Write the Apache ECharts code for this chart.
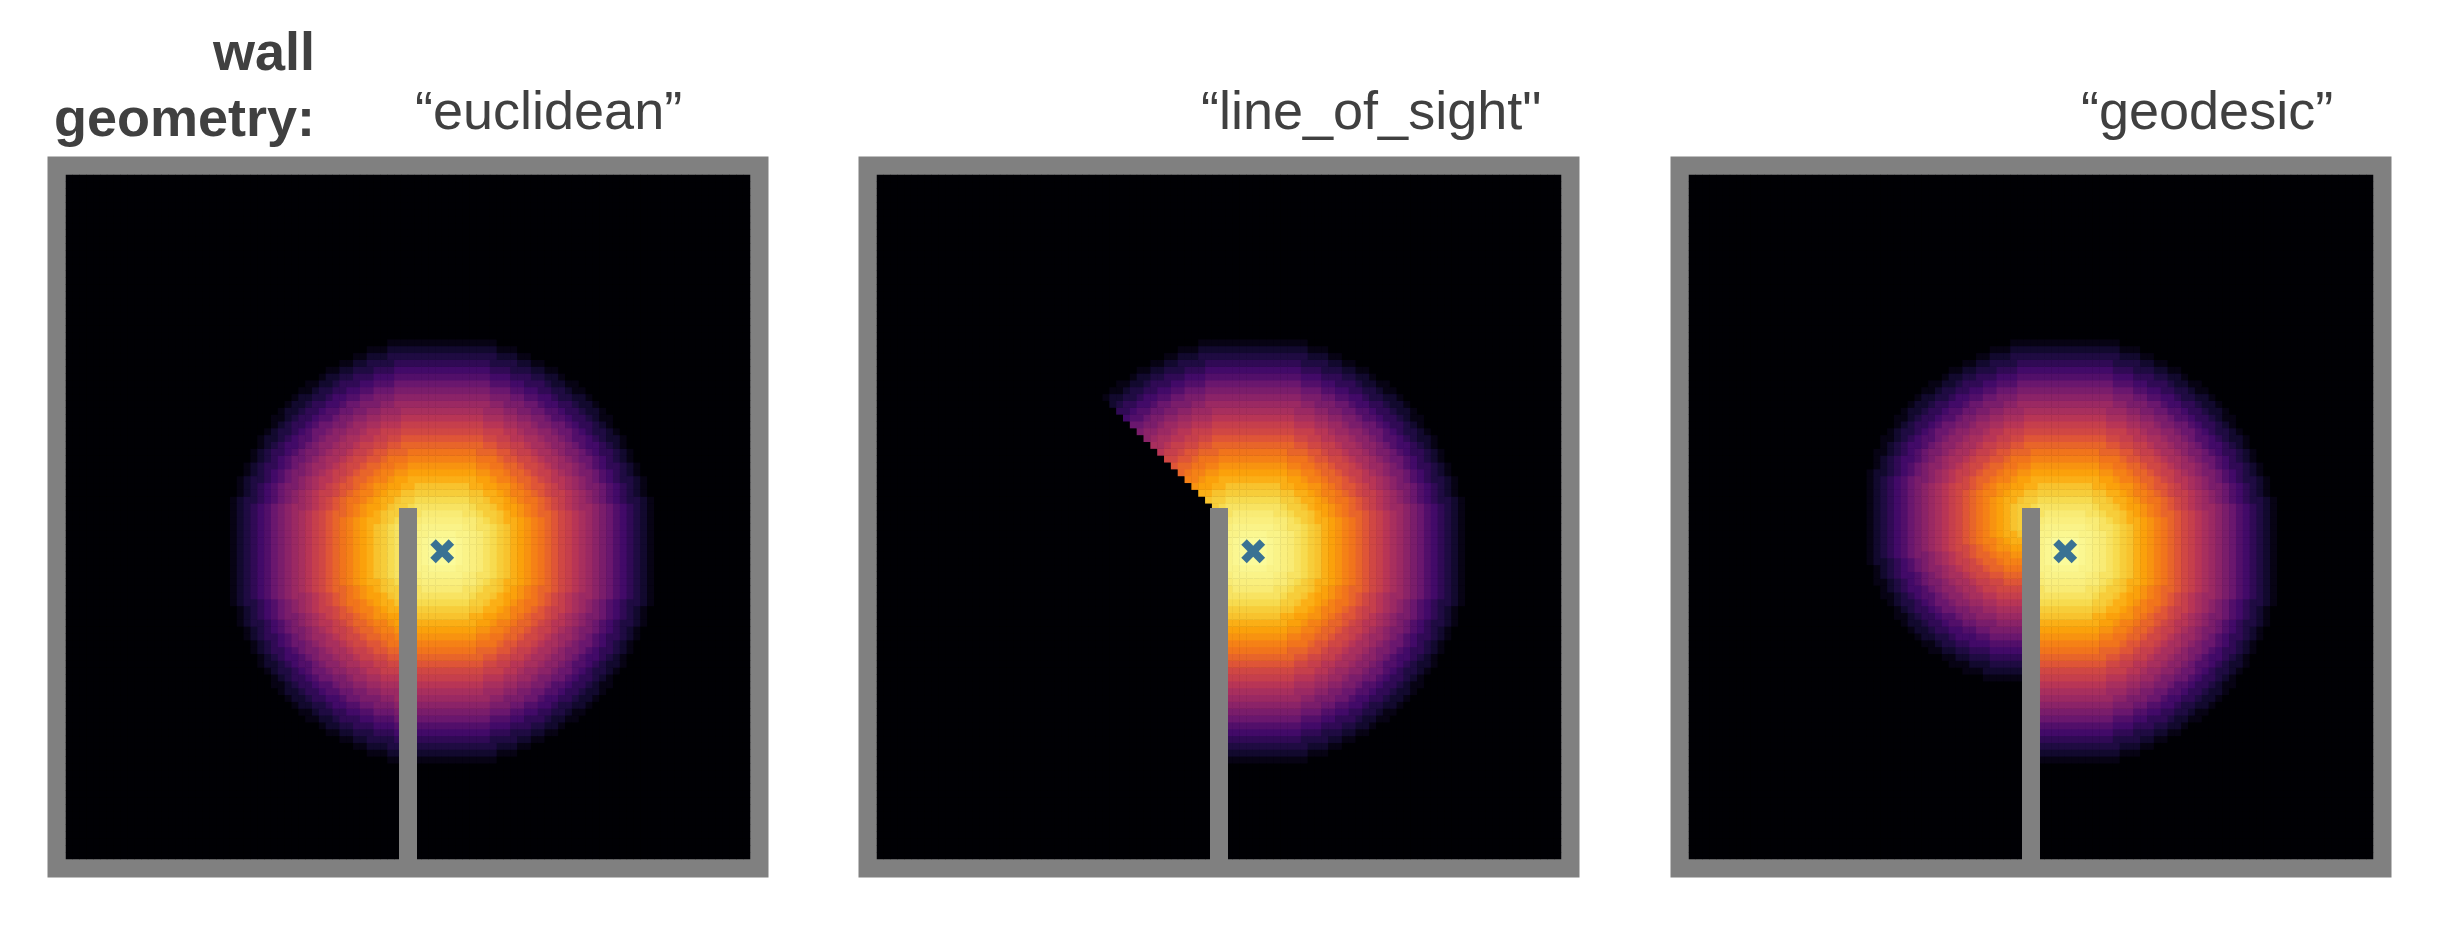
<!DOCTYPE html>
<html>
<head>
<meta charset="utf-8">
<script src="https://cdn.jsdelivr.net/npm/echarts@6/dist/echarts.min.js"></script>
<style>
  html, body { margin: 0; padding: 0; background: #fff; }
  #main { width: 2438px; height: 925px; }
</style>
</head>
<body>
<div id="main"></div>
<script>
var chartDom = document.getElementById("main");
var myChart = echarts.init(chartDom);

// panel titles
var geometries = ["euclidean", "line_of_sight", "geodesic"];
var panelTitles = ["\u201ceuclidean\u201d", "\u201cline_of_sight\"", "\u201cgeodesic\u201d"];

// environment (unit box, 100 x 100 cells)
var gridCells = 100;
var wall = [[0.5, 0], [0.5, 0.5]];
var placeCentre = [0.55, 0.45];

// firing rate vs distance from the centre, every 0.01
var rateProfile = [1.00, 1.00, 0.99, 0.98, 0.97, 0.96, 0.95, 0.93, 0.91, 0.88,
                   0.86, 0.82, 0.79, 0.76, 0.72, 0.69, 0.65, 0.61, 0.56, 0.53,
                   0.49, 0.45, 0.42, 0.38, 0.34, 0.30, 0.24, 0.20, 0.16, 0.12,
                   0.08, 0.03, 0.00];

// inferno colormap
var inferno = ["#000004", "#160b39", "#420a68", "#6a176e", "#932667", "#bc3754",
               "#dd513a", "#f37819", "#fca50a", "#f6d746", "#fcffa4"];

var panelLeft = [66, 877, 1689];
var panelTop = 175;
var panelSize = 684;
var frame = 18.5;

function blocked(px, py) {
  // does the straight path from the cell to the centre cross the wall?
  var wx = wall[0][0];
  if ((px - wx) * (placeCentre[0] - wx) >= 0) return false;
  var t = (wx - placeCentre[0]) / (px - placeCentre[0]);
  var yc = placeCentre[1] + (py - placeCentre[1]) * t;
  return yc >= wall[0][1] && yc <= wall[1][1];
}

function cellRate(px, py, geom) {
  var d = Math.hypot(px - placeCentre[0], py - placeCentre[1]);
  if (geom !== "euclidean" && blocked(px, py)) {
    if (geom === "line_of_sight") return 0;
    var c = wall[1];
    d = Math.hypot(px - c[0], py - c[1]) + Math.hypot(c[0] - placeCentre[0], c[1] - placeCentre[1]);
  }
  var k = Math.round(d * 100);
  return k < rateProfile.length ? rateProfile[k] : 0;
}

var cats = [];
for (var i = 0; i < gridCells; i++) cats.push(i);

var grids = [], xAxes = [], yAxes = [], series = [], graphics = [];

geometries.forEach(function (geom, p) {
  var left = panelLeft[p];
  // gray frame, heatmap grid, overlay grid
  grids.push({ left: left - frame, top: panelTop - frame, width: panelSize + 2 * frame,
               height: panelSize + 2 * frame, show: true, backgroundColor: "#808080", borderWidth: 0 });
  grids.push({ left: left, top: panelTop, width: panelSize, height: panelSize,
               show: true, backgroundColor: "#000004", borderWidth: 0 });
  grids.push({ left: left, top: panelTop, width: panelSize, height: panelSize });
  var g0 = p * 3;
  xAxes.push({ gridIndex: g0, type: "value", show: false });
  yAxes.push({ gridIndex: g0, type: "value", show: false });
  xAxes.push({ gridIndex: g0 + 1, type: "category", data: cats, show: false });
  yAxes.push({ gridIndex: g0 + 1, type: "category", data: cats, show: false });
  xAxes.push({ gridIndex: g0 + 2, type: "value", min: 0, max: 1, show: false });
  yAxes.push({ gridIndex: g0 + 2, type: "value", min: 0, max: 1, show: false });

  var data = [];
  for (var ix = 0; ix < gridCells; ix++) {
    for (var iy = 0; iy < gridCells; iy++) {
      data.push([ix, iy, cellRate((ix + 0.5) / gridCells, (iy + 0.5) / gridCells, geom)]);
    }
  }
  series.push({
    type: "heatmap", xAxisIndex: g0 + 1, yAxisIndex: g0 + 1,
    data: data, progressive: 0, animation: false, silent: true
  });
  series.push({
    type: "line", xAxisIndex: g0 + 2, yAxisIndex: g0 + 2, data: wall,
    symbol: "none", silent: true, animation: false,
    lineStyle: { color: "#808080", width: 18, cap: "square" }
  });
  series.push({
    type: "scatter", xAxisIndex: g0 + 2, yAxisIndex: g0 + 2, data: [placeCentre],
    symbol: "path://M3.5,0 L6.5,0 L6.5,3.5 L10,3.5 L10,6.5 L6.5,6.5 L6.5,10 L3.5,10 L3.5,6.5 L0,6.5 L0,3.5 L3.5,3.5 Z",
    symbolSize: 26, symbolRotate: 45, silent: true, animation: false,
    itemStyle: { color: "#3a7293", opacity: 1 }
  });
});

var titleLeft = [417, 1203, 2083];
panelTitles.forEach(function (t, p) {
  graphics.push({ type: "text", left: titleLeft[p] - 2, top: 87,
    style: { text: t, fill: "#404040", font: "54px 'Liberation Sans', Arial, sans-serif" } });
});
graphics.push({ type: "text", right: 2438 - 315, top: 28,
  style: { text: "wall", fill: "#404040", font: "bold 54px 'Liberation Sans', Arial, sans-serif" } });
graphics.push({ type: "text", right: 2438 - 315, top: 94,
  style: { text: "geometry:", fill: "#404040", font: "bold 54px 'Liberation Sans', Arial, sans-serif" } });

var option = {
  backgroundColor: "#ffffff",
  animation: false,
  grid: grids,
  xAxis: xAxes,
  yAxis: yAxes,
  visualMap: {
    show: false, min: 0, max: 1, calculable: false,
    seriesIndex: [0, 3, 6],
    inRange: { color: inferno }
  },
  graphic: graphics,
  series: series
};

option && myChart.setOption(option);
</script>
</body>
</html>
